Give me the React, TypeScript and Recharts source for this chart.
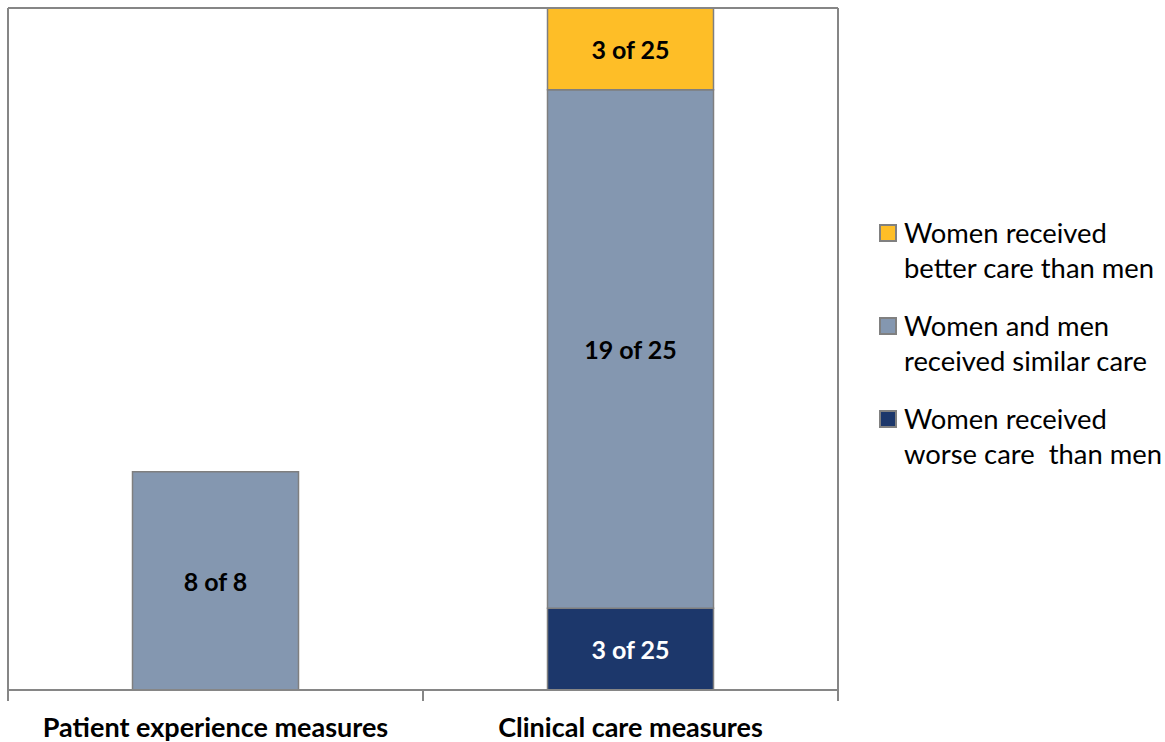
import React from 'react';
import { BarChart, Bar, XAxis, YAxis, LabelList, ReferenceLine } from 'recharts';

const categories = ['Patient experience measures', 'Clinical care measures'];
const worse = [null, 3];
const similar = [8, 19];
const better = [null, 3];
const totals = [8, 25];
const legendLines = [
  ['Women received', 'better care than men'],
  ['Women and men', 'received similar care'],
  ['Women received', 'worse care  than men'],
];

const COLORS = { better: '#FEBE27', similar: '#8497B0', worse: '#1C376B' };
const FONT = 'Lato, "Open Sans", sans-serif';

const W = 1165;
const H = 742;
const M = { top: 8, right: 326, bottom: 0, left: 7 };
const HALF_BAND = (W - 8 - 327) / categories.length / 2;

const lbl = (v: number | null, t: number) => (v == null ? null : `${v} of ${t}`);

const data = categories.map((c, i) => ({
  name: c,
  worse: worse[i],
  similar: similar[i],
  better: better[i],
  worseLabel: lbl(worse[i], totals[i]),
  similarLabel: lbl(similar[i], totals[i]),
  betterLabel: lbl(better[i], totals[i]),
}));

const makeLabel = (fill: string) => (props: any) => {
  const { x, y, width, height, value } = props;
  if (value == null || value === '') return null;
  return (
    <text
      x={x + width / 2}
      y={y + height / 2}
      textAnchor="middle"
      dominantBaseline="central"
      fill={fill}
      fontFamily={FONT}
      fontWeight={700}
      fontSize={25}
    >
      {value}
    </text>
  );
};

const CatTick = (props: any) => {
  const { x, y, payload, index } = props;
  const last = index === categories.length - 1;
  return (
    <g>
      <line x1={x - HALF_BAND} x2={x - HALF_BAND} y1={y - 8} y2={y + 3} stroke="#868686" strokeWidth={2} />
      {last && <line x1={x + HALF_BAND} x2={x + HALF_BAND} y1={y - 8} y2={y + 3} stroke="#868686" strokeWidth={2} />}
      <text x={x} y={y + 39} textAnchor="middle" fontFamily={FONT} fontWeight={700} fontSize={27} fill="#000">
        {payload.value}
      </text>
    </g>
  );
};

const colorsList = [COLORS.better, COLORS.similar, COLORS.worse];

export default function App() {
  return (
    <div style={{ position: 'absolute', left: 0, top: 0, width: W, height: H, background: '#fff' }}>
      <BarChart width={W} height={H} data={data} margin={M} barCategoryGap="30%">
        <XAxis
          dataKey="name"
          height={52}
          axisLine={{ stroke: '#868686', strokeWidth: 2 }}
          tickLine={false}
          tick={<CatTick />}
          interval={0}
        />
        <YAxis
          width={1}
          domain={[0, 25]}
          tick={false}
          tickLine={false}
          axisLine={{ stroke: '#868686', strokeWidth: 2 }}
        />
        <YAxis
          yAxisId="r"
          orientation="right"
          width={1}
          domain={[0, 25]}
          tick={false}
          tickLine={false}
          axisLine={{ stroke: '#868686', strokeWidth: 2 }}
        />
        <Bar dataKey="worse" stackId="a" fill={COLORS.worse} stroke="#7F7F7F" strokeWidth={1.5} isAnimationActive={false}>
          <LabelList dataKey="worseLabel" content={makeLabel('#fff')} />
        </Bar>
        <Bar dataKey="similar" stackId="a" fill={COLORS.similar} stroke="#7F7F7F" strokeWidth={1.5} isAnimationActive={false}>
          <LabelList dataKey="similarLabel" content={makeLabel('#000')} />
        </Bar>
        <Bar dataKey="better" stackId="a" fill={COLORS.better} stroke="#7F7F7F" strokeWidth={1.5} isAnimationActive={false}>
          <LabelList dataKey="betterLabel" content={makeLabel('#000')} />
        </Bar>
        <ReferenceLine y={25} stroke="#868686" strokeWidth={2} ifOverflow="visible" />
      </BarChart>
      <div
        style={{
          position: 'absolute',
          left: 879,
          top: 215,
          fontFamily: FONT,
          fontSize: 27.4,
          color: '#000',
          lineHeight: '35px',
        }}
      >
        {legendLines.map((lines, i) => (
          <div key={i} style={{ display: 'flex', alignItems: 'flex-start', marginBottom: i < 2 ? 23 : 0 }}>
            <div
              style={{
                width: 14,
                height: 14,
                background: colorsList[i],
                border: '2px solid #808080',
                marginTop: 9,
                marginRight: 7,
                flex: 'none',
              }}
            />
            <div>
              {lines.map((l, j) => (
                <div key={j} style={{ whiteSpace: 'pre' }}>{l}</div>
              ))}
            </div>
          </div>
        ))}
      </div>
    </div>
  );
}
